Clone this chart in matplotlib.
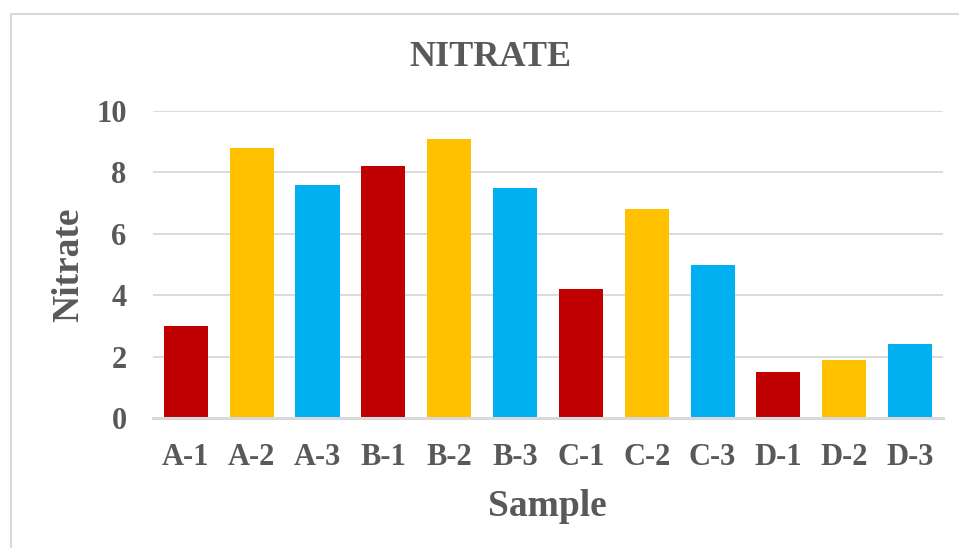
import matplotlib
matplotlib.use('Agg')
import matplotlib.pyplot as plt
from matplotlib.lines import Line2D

samples = ['A-1', 'A-2', 'A-3', 'B-1', 'B-2', 'B-3',
           'C-1', 'C-2', 'C-3', 'D-1', 'D-2', 'D-3']
nitrate = [3.0, 8.8, 7.6, 8.2, 9.1, 7.5, 4.2, 6.8, 5.0, 1.5, 1.9, 2.4]
palette = ['#C00000', '#FFC000', '#00B0F0']
yticks = [0, 2, 4, 6, 8, 10]

txt = '#595959'
grid = '#D9D9D9'
plt.rcParams['font.family'] = ['Liberation Serif', 'DejaVu Serif']
plt.rcParams['font.weight'] = 'bold'

fig = plt.figure(figsize=(9.59, 5.48), dpi=100)
ax = fig.add_axes([0.1595, 0.2372, 0.8238, 0.5602])

colors = [palette[i % 3] for i in range(len(samples))]
ax.bar(range(len(samples)), nitrate, width=0.67, color=colors, zorder=3)

ax.set_xlim(-0.5, len(samples) - 0.5)
ax.set_ylim(0, 10)
ax.set_yticks(yticks)
ax.set_xticks(range(len(samples)))
ax.set_xticklabels(samples)
for y in yticks[1:]:
    ax.axhline(y, color=grid, lw=1.3, zorder=1)
ax.axhline(0, color=grid, lw=2.2, zorder=4, clip_on=False)

for s in ax.spines.values():
    s.set_visible(False)
ax.tick_params(axis='both', length=0, labelsize=22, labelcolor=txt)
ax.tick_params(axis='y', pad=19)
ax.tick_params(axis='x', pad=18)

fig.text(490 / 959, 1 - 58 / 548, 'NITRATE', ha='center', va='center',
         fontsize=26, fontweight='bold', color=txt)
fig.text(69 / 959, 1 - 265 / 548, 'Nitrate', ha='center', va='center',
         rotation=90, fontsize=27, fontweight='bold', color=txt)
fig.text(547 / 959, 1 - 506 / 548, 'Sample', ha='center', va='center',
         fontsize=27, fontweight='bold', color=txt)

# chart border (only left and top visible in the crop)
fig.add_artist(Line2D([10.5 / 959, 10.5 / 959], [0, 1 - 14 / 548],
                      transform=fig.transFigure, color=grid, lw=1.5))
fig.add_artist(Line2D([10.5 / 959, 1], [1 - 14 / 548, 1 - 14 / 548],
                      transform=fig.transFigure, color=grid, lw=1.5))

fig.savefig('out.png', dpi=100)
